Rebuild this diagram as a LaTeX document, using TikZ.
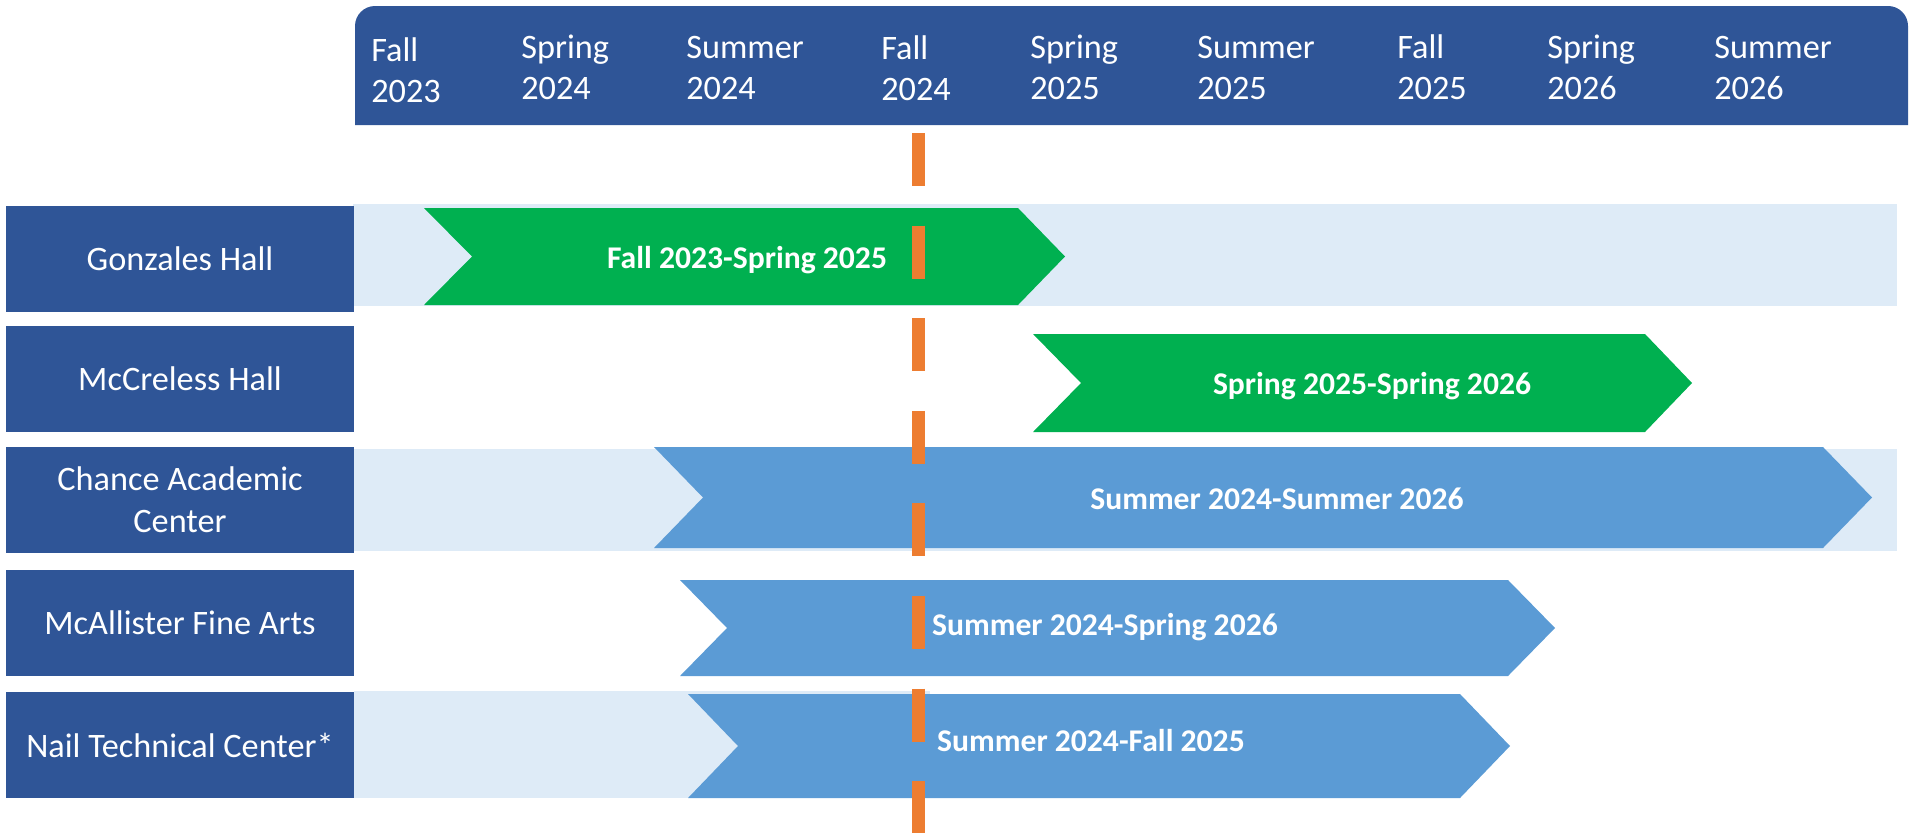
\documentclass[tikz,border=0pt]{standalone}
\usepackage{fontspec}
\setmainfont{Carlito}
\definecolor{headblue}{RGB}{47,85,151}
\definecolor{bandblue}{RGB}{222,235,247}
\definecolor{phasegreen}{RGB}{0,176,80}
\definecolor{phaseblue}{RGB}{91,155,213}
\definecolor{nowline}{RGB}{237,125,49}
\tikzstyle{term} = [text=white, anchor=base west, align=left, inner sep=0pt, font={\fontsize{19.5}{23.3}\selectfont}]
\tikzstyle{bldg} = [fill=headblue, text=white, align=center, inner sep=0pt, minimum width=6.95cm, minimum height=2.12cm, font={\fontsize{19.5}{24}\selectfont}]
\tikzstyle{band} = [fill=bandblue]
\tikzstyle{greenbar} = [fill=phasegreen]
\tikzstyle{bluebar} = [fill=phaseblue]
\tikzstyle{span} = [text=white, anchor=base, inner sep=0pt, font={\bfseries\fontsize{18}{21}\selectfont}]
\tikzstyle{now} = [draw=nowline, line width=7.4pt, dash pattern=on 30.2pt off 22.5pt]

\begin{document}
\begin{tikzpicture}[x=0.02cm, y=-0.02cm]
    \useasboundingbox (0,0) rectangle (1916,835);
    % terms
    \fill[headblue] (355,125) [rounded corners=0.4cm] -- (355,6) -- (1908,6) [sharp corners] -- (1908,125) -- cycle;
    \node[term](fa23) at (371,102){Fall\\2023};
    \node[term](sp24) at (521,99){Spring\\2024};
    \node[term](su24) at (686,99){Summer\\2024};
    \node[term](fa24) at (881,100){Fall\\2024};
    \node[term](sp25) at (1030,99){Spring\\2025};
    \node[term](su25) at (1197,99){Summer\\2025};
    \node[term](fa25) at (1397,99){Fall\\2025};
    \node[term](sp26) at (1547,99){Spring\\2026};
    \node[term](su26) at (1714,99){Summer\\2026};
    % rows
    \fill[band] (353,204) rectangle (1897,306);
    \fill[band] (353,449) rectangle (1897,551);
    \fill[band] (354,691) rectangle (930,798);
    \fill[greenbar] (424,208) -- (1018,208) -- (1065,256.5) -- (1018,305) -- (424,305) -- (472,256.5) -- cycle;
    \fill[greenbar] (1033,334) -- (1645,334) -- (1692,383) -- (1645,432) -- (1033,432) -- (1081,383) -- cycle;
    \fill[bluebar] (654,447) -- (1823,447) -- (1872,497.5) -- (1823,548) -- (654,548) -- (703,497.5) -- cycle;
    \fill[bluebar] (680,580) -- (1508,580) -- (1555,628) -- (1508,676) -- (680,676) -- (727,628) -- cycle;
    \fill[bluebar] (688,694) -- (1460,694) -- (1510,746) -- (1460,798) -- (688,798) -- (738,746) -- cycle;
    \node[bldg](gonz) at (180,259){Gonzales Hall};
    \node[bldg](mccr) at (180,379){McCreless Hall};
    \node[bldg](chan) at (180,500){Chance Academic\\Center};
    \node[bldg](mcal) at (180,623){McAllister Fine Arts};
    \node[bldg](nail) at (180,745){Nail Technical Center*};
    \node[span](gonzspan) at (747,268){Fall 2023-Spring 2025};
    \node[span](mccrspan) at (1372,394){Spring 2025-Spring 2026};
    \node[span](chanspan) at (1277,509){Summer 2024-Summer 2026};
    \node[span](mcalspan) at (1105,635){Summer 2024-Spring 2026};
    \node[span](nailspan) at (1091,751){Summer 2024-Fall 2025};
    % today
    \coordinate (nowtop) at (918,133);
    \coordinate (nowbot) at (918,833);
    \draw[now](nowtop)--(nowbot);
\end{tikzpicture}
\end{document}
